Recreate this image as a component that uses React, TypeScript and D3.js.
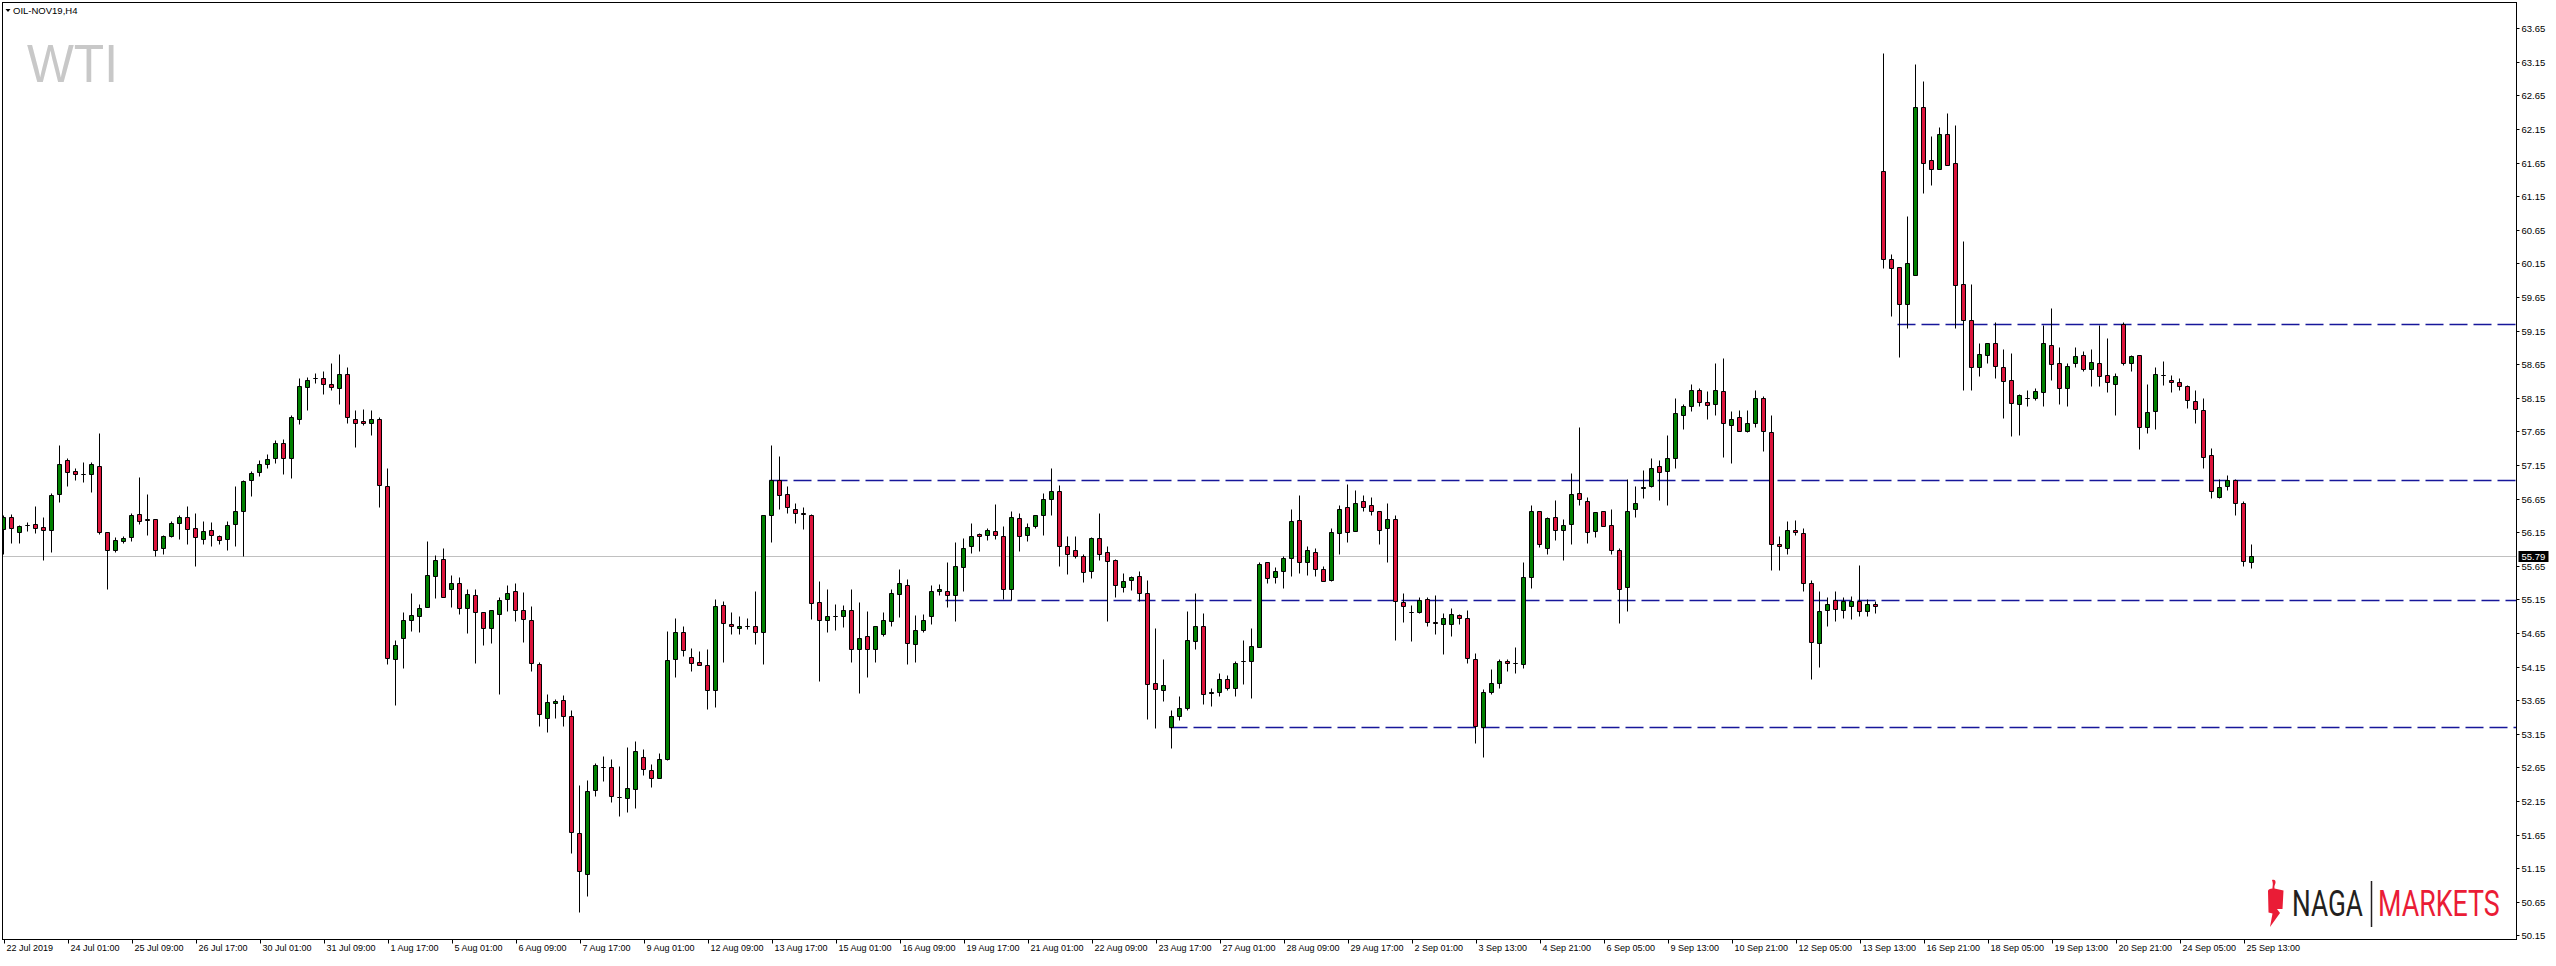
import React from 'react';
import * as d3 from 'd3';

const W = 2556;
const H = 966;

const opens = [
  56.19, 56.38, 56.15, 56.25, 56.27, 56.22, 56.18, 56.71, 57.22, 57.06,
  57.01, 57.01, 57.14, 56.15, 55.89, 56.02, 56.07, 56.42, 56.34, 56.34,
  55.91, 56.09, 56.28, 56.37, 56.21, 56.05, 56.18, 56.09, 56.04, 56.27,
  56.46, 56.92, 57.04, 57.17, 57.25, 57.47, 57.26, 57.84, 58.31, 58.44,
  58.44, 58.35, 58.29, 58.51, 57.83, 57.80, 57.77, 57.83, 56.83, 54.26,
  54.57, 54.84, 54.90, 55.03, 55.49, 55.75, 55.31, 55.40, 55.02, 55.21,
  54.96, 54.72, 54.93, 55.15, 55.27, 54.99, 54.84, 54.18, 53.39, 53.60,
  53.65, 53.42, 51.67, 51.06, 52.31, 52.66, 52.65, 52.21, 52.20, 52.32,
  52.80, 52.61, 52.49, 52.78, 54.26, 54.67, 54.29, 54.21, 54.17, 53.80,
  55.06, 54.78, 54.72, 54.75, 54.75, 54.66, 56.40, 56.92, 56.71, 56.50,
  56.43, 56.40, 55.11, 54.84, 54.90, 54.90, 54.99, 54.41, 54.60, 54.41,
  54.63, 54.82, 55.23, 55.37, 54.48, 54.69, 54.90, 55.27, 55.28, 55.21,
  55.63, 55.95, 56.12, 56.10, 56.16, 56.09, 55.31, 56.36, 56.10, 56.24,
  56.41, 56.64, 56.76, 55.94, 55.88, 55.79, 55.57, 56.06, 55.85, 55.73,
  55.33, 55.43, 55.49, 55.24, 53.90, 53.80, 53.25, 53.41, 53.53, 54.53,
  54.75, 53.75, 53.77, 53.97, 53.83, 54.23, 54.23, 54.44, 55.70, 55.48,
  55.57, 55.76, 56.33, 55.70, 55.86, 55.60, 55.43, 56.13, 56.52, 56.16,
  56.61, 56.55, 56.46, 56.21, 56.34, 55.11, 54.96, 54.96, 55.15, 54.81,
  54.78, 54.78, 54.91, 54.87, 54.26, 53.25, 53.77, 53.90, 54.23, 54.20,
  54.18, 55.48, 56.46, 55.92, 56.37, 56.18, 56.27, 56.73, 56.62, 56.16,
  56.46, 56.25, 55.88, 55.33, 56.49, 56.80, 56.83, 57.13, 57.06, 57.26,
  57.90, 58.02, 58.26, 58.08, 58.05, 58.25, 57.75, 57.86, 57.65, 57.78,
  58.14, 57.64, 55.97, 55.91, 56.18, 56.13, 55.39, 54.50, 54.99, 55.14,
  54.99, 55.05, 55.12, 54.98, 55.08, 61.52, 60.22, 60.09, 59.54, 59.97,
  62.48, 61.69, 61.56, 62.08, 61.64, 59.84, 59.30, 58.61, 58.78, 58.96,
  58.60, 58.41, 58.05, 58.15, 58.14, 58.23, 58.94, 58.66, 58.29, 58.66,
  58.78, 58.58, 58.66, 58.49, 58.36, 59.25, 58.66, 58.78, 57.71, 57.95,
  58.49, 58.41, 58.38, 58.32, 58.10, 57.97, 57.29, 56.67, 56.83, 56.93,
  56.58, 55.70,
];

const highs = [
  56.41, 56.42, 56.26, 56.30, 56.54, 56.37, 56.73, 57.45, 57.25, 57.11,
  57.19, 57.19, 57.62, 56.15, 56.07, 56.09, 56.44, 56.97, 56.72, 56.34,
  56.11, 56.31, 56.40, 56.54, 56.44, 56.32, 56.30, 56.10, 56.31, 56.84,
  56.93, 57.06, 57.22, 57.31, 57.52, 57.54, 57.89, 58.44, 58.46, 58.52,
  58.55, 58.67, 58.80, 58.61, 57.97, 57.98, 57.97, 57.86, 57.11, 54.54,
  54.96, 55.25, 55.08, 56.02, 55.81, 55.91, 55.51, 55.48, 55.30, 55.30,
  54.96, 54.99, 55.18, 55.36, 55.40, 55.26, 55.05, 54.21, 53.74, 53.66,
  53.72, 53.51, 52.39, 52.46, 52.72, 52.82, 52.78, 52.67, 52.95, 53.04,
  52.92, 52.70, 52.86, 54.68, 54.87, 54.75, 54.42, 54.38, 54.41, 55.16,
  55.12, 54.96, 54.90, 54.87, 55.27, 56.40, 57.45, 57.28, 56.83, 56.58,
  56.53, 56.42, 55.42, 55.30, 55.08, 55.07, 55.30, 55.11, 54.98, 54.76,
  54.96, 55.30, 55.60, 55.45, 54.92, 54.93, 55.36, 55.38, 55.71, 56.00,
  56.06, 56.29, 56.13, 56.21, 56.57, 56.24, 56.46, 56.43, 56.28, 56.41,
  56.73, 57.10, 56.85, 56.09, 56.09, 55.82, 56.07, 56.43, 55.94, 55.75,
  55.54, 55.50, 55.57, 55.43, 54.73, 54.26, 53.50, 53.71, 54.97, 55.24,
  54.94, 53.83, 54.06, 54.03, 54.23, 54.54, 54.72, 55.70, 55.70, 55.63,
  55.79, 56.50, 56.70, 55.94, 55.91, 55.64, 56.21, 56.55, 56.86, 56.77,
  56.70, 56.67, 56.46, 56.58, 56.40, 55.25, 55.06, 55.18, 55.19, 55.21,
  54.94, 55.02, 54.93, 54.99, 54.35, 53.81, 54.11, 54.26, 54.26, 54.44,
  55.71, 56.55, 56.46, 56.37, 56.63, 56.34, 57.03, 57.71, 56.67, 56.45,
  56.47, 56.49, 55.91, 56.94, 56.83, 57.08, 57.26, 57.22, 57.59, 58.14,
  58.05, 58.36, 58.29, 58.25, 58.66, 58.74, 57.95, 57.96, 57.96, 58.26,
  58.17, 57.90, 56.09, 56.31, 56.33, 56.21, 55.43, 55.27, 55.18, 55.27,
  55.19, 55.20, 55.66, 55.15, 55.12, 63.28, 60.29, 60.09, 60.85, 63.11,
  62.86, 62.04, 62.18, 62.38, 62.21, 60.48, 59.84, 58.96, 58.96, 59.28,
  58.88, 58.81, 58.21, 58.26, 58.30, 59.23, 59.48, 58.90, 58.67, 58.91,
  58.85, 58.88, 59.23, 59.04, 58.52, 59.28, 58.79, 58.78, 58.35, 58.61,
  58.70, 58.49, 58.45, 58.34, 58.27, 58.14, 57.40, 56.94, 57.00, 56.94,
  56.61, 55.98,
];

const lows = [
  55.82, 55.99, 55.99, 56.16, 56.14, 55.73, 55.85, 56.60, 56.83, 56.92,
  56.90, 56.75, 56.12, 55.31, 55.86, 55.99, 56.02, 56.27, 56.10, 55.79,
  55.83, 56.08, 56.05, 55.98, 55.65, 55.98, 55.95, 55.98, 55.89, 55.95,
  55.79, 56.69, 56.99, 57.11, 57.18, 57.01, 56.95, 57.76, 57.96, 58.37,
  58.20, 58.26, 58.05, 57.78, 57.41, 57.74, 57.60, 56.53, 54.18, 53.57,
  54.13, 54.68, 54.67, 55.03, 55.17, 55.18, 55.04, 54.93, 54.65, 54.20,
  54.47, 54.50, 53.74, 54.98, 54.82, 54.52, 54.09, 53.27, 53.18, 53.38,
  53.27, 51.37, 50.50, 50.73, 52.23, 52.45, 52.13, 51.92, 51.99, 52.05,
  52.54, 52.35, 52.49, 52.76, 54.00, 54.31, 54.09, 54.17, 53.52, 53.55,
  54.22, 54.63, 54.63, 54.71, 54.48, 54.19, 56.01, 56.49, 56.43, 56.28,
  56.20, 54.85, 53.94, 54.66, 54.69, 54.74, 54.22, 53.75, 54.00, 54.22,
  54.60, 54.76, 54.89, 54.19, 54.22, 54.67, 54.78, 55.22, 55.04, 54.82,
  55.27, 55.84, 55.87, 56.03, 56.04, 55.16, 55.14, 55.87, 56.02, 56.21,
  56.11, 56.41, 55.65, 55.53, 55.76, 55.41, 55.47, 55.73, 54.83, 55.19,
  55.26, 55.29, 55.12, 53.37, 53.23, 53.64, 52.94, 53.36, 53.50, 54.41,
  53.59, 53.56, 53.71, 53.80, 53.71, 53.89, 53.68, 54.44, 55.40, 55.40,
  55.32, 55.49, 55.54, 55.51, 55.49, 55.42, 55.42, 55.82, 56.00, 56.16,
  56.47, 56.41, 55.98, 55.70, 54.54, 54.81, 54.53, 54.94, 54.76, 54.63,
  54.33, 54.60, 54.78, 54.20, 53.01, 52.81, 53.74, 53.83, 54.08, 54.06,
  54.13, 55.32, 55.93, 55.82, 56.03, 55.73, 55.98, 56.56, 55.99, 56.07,
  56.24, 55.83, 54.80, 54.98, 56.37, 56.66, 56.82, 56.63, 56.56, 57.11,
  57.69, 57.95, 58.02, 57.83, 57.90, 57.27, 57.18, 57.65, 57.64, 57.71,
  57.36, 55.59, 55.59, 55.83, 56.10, 55.27, 53.97, 54.14, 54.76, 54.82,
  54.87, 54.85, 54.90, 54.90, 54.95, 60.08, 59.36, 58.76, 59.18, 59.97,
  61.19, 61.32, 61.56, 61.62, 59.19, 58.27, 58.26, 58.48, 58.67, 58.45,
  57.85, 57.58, 57.59, 58.02, 58.11, 58.02, 58.41, 58.05, 58.03, 58.61,
  58.54, 58.32, 58.33, 58.24, 57.90, 58.63, 58.54, 57.38, 57.62, 57.68,
  58.34, 58.24, 58.27, 57.99, 57.77, 57.10, 56.66, 56.66, 56.78, 56.40,
  55.64, 55.61,
];

const closes = [
  56.37, 56.21, 56.24, 56.26, 56.21, 56.18, 56.70, 57.16, 57.04, 57.02,
  57.01, 57.16, 56.15, 55.88, 56.03, 56.06, 56.40, 56.31, 56.33, 55.89,
  56.09, 56.28, 56.37, 56.20, 56.07, 56.16, 56.10, 56.03, 56.25, 56.46,
  56.91, 57.03, 57.16, 57.24, 57.47, 57.25, 57.86, 58.32, 58.42, 58.44,
  58.35, 58.31, 58.51, 57.86, 57.78, 57.77, 57.84, 56.85, 54.27, 54.47,
  54.84, 54.91, 55.02, 55.51, 55.73, 55.18, 55.39, 55.02, 55.23, 54.96,
  54.73, 54.99, 55.14, 55.25, 54.99, 54.85, 54.20, 53.44, 53.62, 53.63,
  53.41, 51.68, 51.10, 52.29, 52.68, 52.66, 52.22, 52.21, 52.34, 52.89,
  52.62, 52.49, 52.78, 54.24, 54.66, 54.39, 54.20, 54.17, 53.80, 55.05,
  54.79, 54.75, 54.75, 54.75, 54.67, 56.40, 56.92, 56.70, 56.52, 56.43,
  56.42, 55.09, 54.84, 54.90, 54.90, 54.99, 54.41, 54.57, 54.41, 54.76,
  54.84, 55.24, 55.39, 54.50, 54.70, 54.84, 55.27, 55.30, 55.21, 55.64,
  55.92, 56.09, 56.09, 56.18, 56.10, 55.30, 56.37, 56.09, 56.22, 56.40,
  56.64, 56.76, 55.95, 55.83, 55.79, 55.55, 56.06, 55.82, 55.72, 55.36,
  55.42, 55.48, 55.24, 53.89, 53.81, 53.87, 53.42, 53.53, 54.54, 54.75,
  53.74, 53.77, 53.97, 53.83, 54.20, 54.23, 54.45, 55.67, 55.46, 55.57,
  55.76, 56.31, 55.70, 55.88, 55.60, 55.42, 56.15, 56.50, 56.15, 56.58,
  56.53, 56.46, 56.18, 56.34, 55.12, 55.05, 54.96, 55.14, 54.81, 54.79,
  54.87, 54.93, 54.87, 54.27, 53.26, 53.77, 53.91, 54.23, 54.20, 54.20,
  55.48, 56.46, 55.97, 56.36, 56.18, 56.25, 56.71, 56.64, 56.15, 56.45,
  56.24, 55.88, 55.31, 56.47, 56.59, 56.82, 57.11, 57.04, 57.25, 57.92,
  58.02, 58.26, 58.08, 58.04, 58.26, 57.77, 57.84, 57.65, 57.77, 58.14,
  57.65, 55.97, 55.94, 56.18, 56.15, 55.39, 54.51, 54.97, 55.08, 55.00,
  55.12, 55.12, 54.98, 55.08, 55.05, 60.22, 60.08, 59.55, 60.16, 62.48,
  61.64, 61.55, 62.07, 61.62, 59.82, 59.30, 58.61, 58.80, 58.96, 58.62,
  58.40, 58.07, 58.19, 58.15, 58.25, 58.96, 58.65, 58.29, 58.62, 58.77,
  58.58, 58.68, 58.48, 58.38, 58.47, 58.66, 58.77, 57.71, 57.93, 58.51,
  58.49, 58.38, 58.32, 58.11, 57.98, 57.27, 56.76, 56.82, 56.93, 56.58,
  55.72, 55.79,
];

const dateLabels = [
  '22 Jul 2019', '24 Jul 01:00', '25 Jul 09:00', '26 Jul 17:00', '30 Jul 01:00',
  '31 Jul 09:00', '1 Aug 17:00', '5 Aug 01:00', '6 Aug 09:00', '7 Aug 17:00',
  '9 Aug 01:00', '12 Aug 09:00', '13 Aug 17:00', '15 Aug 01:00', '16 Aug 09:00',
  '19 Aug 17:00', '21 Aug 01:00', '22 Aug 09:00', '23 Aug 17:00', '27 Aug 01:00',
  '28 Aug 09:00', '29 Aug 17:00', '2 Sep 01:00', '3 Sep 13:00', '4 Sep 21:00',
  '6 Sep 05:00', '9 Sep 13:00', '10 Sep 21:00', '12 Sep 05:00', '13 Sep 13:00',
  '16 Sep 21:00', '18 Sep 05:00', '19 Sep 13:00', '20 Sep 21:00', '24 Sep 05:00',
  '25 Sep 13:00',
];

const priceTicks = [
  63.65, 63.15, 62.65, 62.15, 61.65, 61.15, 60.65, 60.15, 59.65, 59.15,
  58.65, 58.15, 57.65, 57.15, 56.65, 56.15, 55.65, 55.15, 54.65, 54.15,
  53.65, 53.15, 52.65, 52.15, 51.65, 51.15, 50.65, 50.15,
];

const levelPrices = [59.24, 56.93, 55.14, 53.25];
const levelStartBars = [237, 96, 118, 146];

const lastPrice = 55.79;

const BULL = '#008000';
const BEAR = '#dc143c';
const LEVEL = '#17179a';

const PLOT_L = 2.5;
const PLOT_T = 2.5;
const PLOT_R = 2516.5;
const PLOT_B = 939.5;

const AXIS_FONT = "'Liberation Sans', Arial, sans-serif";
const LOGO_FONT = "Roboto, 'Liberation Sans', sans-serif";

export default function App() {
  const x = d3.scaleLinear().domain([0, 1]).range([3.5, 11.5]);
  const y = d3.scaleLinear().domain([50.15, 63.65]).range([935.3, 28.1]);
  const py = (v: number) => Math.round(y(v)) + 0.5;

  const candles = opens.map((o, i) => ({
    i,
    o,
    h: highs[i],
    l: lows[i],
    c: closes[i],
  }));

  return (
    <div style={{ position: 'fixed', left: 0, top: 0, width: W, height: H, background: '#fff' }}>
      <svg width={W} height={H} viewBox={`0 0 ${W} ${H}`} style={{ display: 'block' }}>
        <defs>
          <clipPath id="plotClip">
            <rect x={PLOT_L + 0.5} y={PLOT_T + 0.5} width={PLOT_R - PLOT_L - 1} height={PLOT_B - PLOT_T - 1} />
          </clipPath>
        </defs>
        <rect x={0} y={0} width={W} height={H} fill="#fff" />

        {/* title */}
        <path d="M5.5 9 L10.5 9 L8 12 Z" fill="#000" />
        <text x={13} y={13.5} fontFamily={AXIS_FONT} fontSize={9.5} fill="#000">OIL-NOV19,H4</text>

        {/* watermark */}
        <text x={27} y={82} fontFamily={AXIS_FONT} fontSize={54} fill="#c8c8c8" textLength={91} lengthAdjust="spacingAndGlyphs">WTI</text>

        <g clipPath="url(#plotClip)">
          {/* current price line */}
          <line x1={PLOT_L} x2={PLOT_R} y1={py(lastPrice)} y2={py(lastPrice)} stroke="#c0c0c0" strokeWidth={1} />

          {/* support / resistance levels */}
          {levelPrices.map((p, k) => (
            <line
              key={`lv${k}`}
              x1={x(levelStartBars[k]) - 2}
              x2={PLOT_R}
              y1={py(p)}
              y2={py(p)}
              stroke={LEVEL}
              strokeWidth={1.3}
              strokeDasharray="18 6"
            />
          ))}

          {/* candles */}
          {candles.map((d) => {
            const cx = x(d.i);
            const top = py(Math.max(d.o, d.c));
            const bot = py(Math.min(d.o, d.c));
            const up = d.c >= d.o;
            return (
              <g key={d.i}>
                <line x1={cx} x2={cx} y1={py(d.h)} y2={py(d.l)} stroke="#000" strokeWidth={1} />
                <path
                  d={`M${cx - 2} ${top} H${cx + 2} V${bot} H${cx - 2} Z`}
                  fill={up ? BULL : BEAR}
                  stroke="#000"
                  strokeWidth={1}
                />
              </g>
            );
          })}
        </g>

        {/* frame */}
        <rect x={PLOT_L} y={PLOT_T} width={PLOT_R - PLOT_L} height={PLOT_B - PLOT_T} fill="none" stroke="#000" strokeWidth={1} />

        {/* price axis */}
        {priceTicks.map((p) => (
          <g key={`pt${p}`}>
            <line x1={PLOT_R} x2={PLOT_R + 3} y1={py(p)} y2={py(p)} stroke="#000" strokeWidth={1} />
            <text x={PLOT_R + 5} y={py(p)} dy="0.35em" fontFamily={AXIS_FONT} fontSize={9.5} fill="#000">
              {p.toFixed(2)}
            </text>
          </g>
        ))}
        {/* last price tag */}
        <rect x={PLOT_R + 2} y={py(lastPrice) - 5.5} width={30} height={11} fill="#000" />
        <text x={PLOT_R + 5} y={py(lastPrice)} dy="0.35em" fontFamily={AXIS_FONT} fontSize={9.5} fill="#fff">
          {lastPrice.toFixed(2)}
        </text>

        {/* time axis */}
        {dateLabels.map((t, k) => {
          const bx = Math.round(x(k * 8)) + 0.5;
          return (
            <g key={`dl${k}`}>
              <line x1={bx} x2={bx} y1={PLOT_B} y2={PLOT_B + 4} stroke="#000" strokeWidth={1} />
              <text x={bx + 2} y={951} fontFamily={AXIS_FONT} fontSize={9} fill="#000">{t}</text>
            </g>
          );
        })}

        {/* NAGA MARKETS logo */}
        <g>
          <path
            d="M2272 880 C2274 879 2276 880 2275.5 883 C2275 885 2274 886 2274.5 888.5 L2283.5 890.5 L2282.5 909 L2277 909 L2280 913 L2270 927 L2272.5 913.5 L2268.5 912.5 L2268 891 C2268 889.5 2270 888.5 2272.5 888.5 C2272.5 886 2273.5 884 2272 880 Z"
            fill="#ea1c36"
          />
          <g transform="translate(2292 916) scale(0.71 1)">
            <text x={0} y={0} fontFamily={LOGO_FONT} fontSize={37} fill="#231f20">NAGA</text>
          </g>
          <line x1={2371.5} x2={2371.5} y1={881} y2={927} stroke="#231f20" strokeWidth={1.5} />
          <g transform="translate(2378 916) scale(0.725 1)">
            <text x={0} y={0} fontFamily={LOGO_FONT} fontSize={37} fill="#ea1c36">MARKETS</text>
          </g>
        </g>
      </svg>
    </div>
  );
}
